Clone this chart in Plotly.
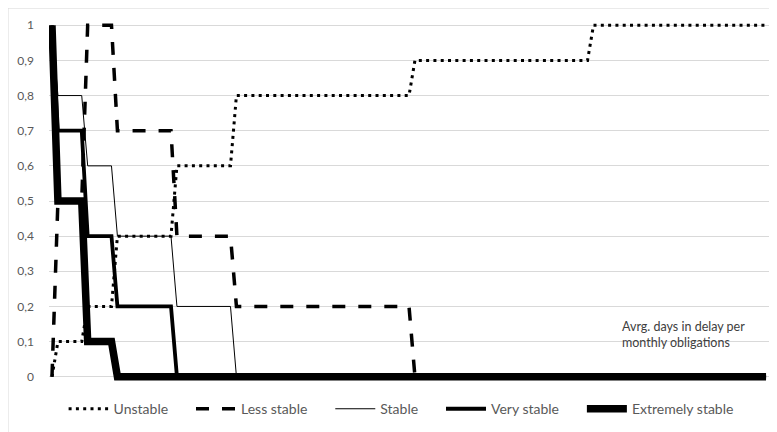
import plotly.graph_objects as go

# Days in delay at which the curves change value (step breakpoints)
days = [0, 1, 5, 6, 10, 11, 20, 21, 30, 31, 60, 61, 90, 91, 120]

unstable = [0, 0.1, 0.1, 0.2, 0.2, 0.4, 0.4, 0.6, 0.6, 0.8, 0.8, 0.9, 0.9, 1, 1]
less_stable = [0, 0.5, 0.5, 1, 1, 0.7, 0.7, 0.4, 0.4, 0.2, 0.2, 0, 0, 0, 0]
stable = [1, 0.8, 0.8, 0.6, 0.6, 0.4, 0.4, 0.2, 0.2, 0, 0, 0, 0, 0, 0]
very_stable = [1, 0.7, 0.7, 0.4, 0.4, 0.2, 0.2, 0, 0, 0, 0, 0, 0, 0, 0]
extremely_stable = [1, 0.5, 0.5, 0.1, 0.1, 0, 0, 0, 0, 0, 0, 0, 0, 0, 0]

names = ["Unstable", "Less stable", "Stable", "Very stable", "Extremely stable"]
series = [unstable, less_stable, stable, very_stable, extremely_stable]
y_ticks = [0, 0.1, 0.2, 0.3, 0.4, 0.5, 0.6, 0.7, 0.8, 0.9, 1]

styles = [
    dict(width=3, dash="3px,4.3px"),
    dict(width=3.5, dash="13px,13px"),
    dict(width=1, dash="solid"),
    dict(width=3.8, dash="solid"),
    dict(width=7.5, dash="solid"),
]

FONT = "Lato"
PAD = "\u00a0" * 5

fig = go.Figure()
for i, (n, s, st) in enumerate(zip(names, series, styles)):
    fig.add_trace(go.Scatter(
        x=days, y=s, mode="lines", name=n + (PAD if i < len(names) - 1 else ""),
        line=dict(color="black", width=st["width"], dash=st["dash"]),
    ))

fig.update_layout(
    width=769, height=424,
    margin=dict(l=41, r=5, t=12, b=50, autoexpand=False),
    paper_bgcolor="white", plot_bgcolor="white",
    separators=", ",
    font=dict(family=FONT, size=12, color="#595959"),
    showlegend=True,
    legend=dict(orientation="h", x=0.487, xanchor="center", y=-0.075, yanchor="middle",
                itemwidth=40,
                font=dict(family=FONT, size=14, color="#595959"), bgcolor="rgba(0,0,0,0)"),
    xaxis=dict(range=[-0.5, 121], showgrid=False, zeroline=False, showticklabels=False,
               showline=False, ticks="", automargin=False),
    yaxis=dict(range=[-0.015, 1.015], tickvals=y_ticks, showgrid=True, gridcolor="#d9d9d9",
               gridwidth=1, zeroline=False, showline=False, ticks="", ticklabelstandoff=14,
               automargin=False,
               tickfont=dict(family=FONT, size=12, color="#595959")),
    shapes=[
        dict(type="rect", xref="paper", yref="paper", x0=-0.0567, x1=1.014, y0=-0.16, y1=1.033,
             line=dict(color="#d9d9d9", width=1), fillcolor="rgba(0,0,0,0)", layer="below"),
        dict(type="rect", xref="x", yref="y", x0=93.4, x1=121, y0=0.03, y1=0.17,
             line=dict(width=0), fillcolor="white", layer="below"),
    ],
    annotations=[
        dict(x=95.4, y=0.119, xref="x", yref="y", xanchor="left", yanchor="middle", align="left",
             showarrow=False, text="Avrg. days in delay per<br>monthly obligations",
             font=dict(family=FONT, size=12.5, color="#404040")),
    ],
)

fig.write_html("out.html")
